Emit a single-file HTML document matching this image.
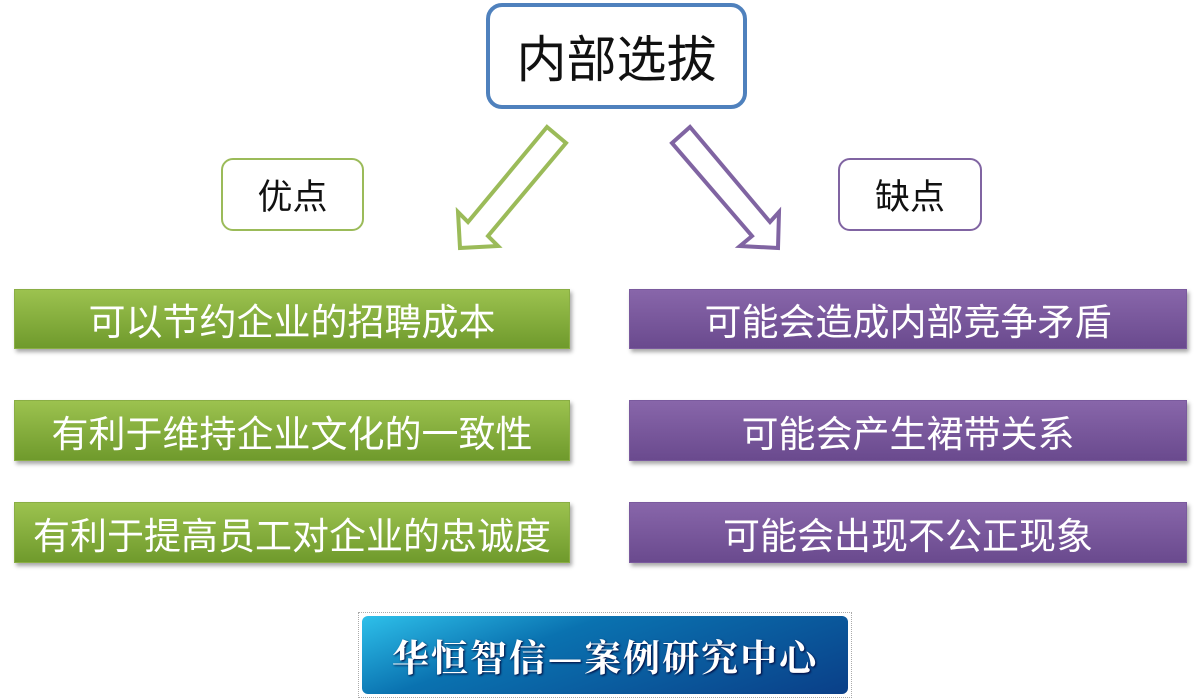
<!DOCTYPE html>
<html><head><meta charset="utf-8"><style>
body{margin:0;width:1199px;height:700px;background:#fff;position:relative;overflow:hidden;font-family:"Liberation Sans","Noto Sans CJK SC",sans-serif}
.b{position:absolute;box-sizing:border-box;display:flex;align-items:center;justify-content:center}
.g{background:linear-gradient(#9cc24f,#6f9a2c);color:#fff;font-size:37px;box-shadow:2px 3px 4px rgba(0,0,0,.35);border:1px solid #8aae45}
.p{background:linear-gradient(#8866aa,#6a4a8e);color:#fff;font-size:37px;box-shadow:2px 3px 4px rgba(0,0,0,.35);border:1px solid #7a5a9e}
</style></head><body>
<div class="b" style="left:486px;top:3px;width:261px;height:106px;border:4px solid #4f81bd;border-radius:16px;font-size:50px;color:#111">内部选拔</div>
<div class="b" style="left:221px;top:158px;width:143px;height:73px;border:2px solid #9bbb59;border-radius:12px;font-size:35px;color:#111">优点</div>
<div class="b" style="left:838px;top:158px;width:144px;height:73px;border:2px solid #8064a2;border-radius:12px;font-size:35px;color:#111">缺点</div>
<svg style="position:absolute;left:0;top:0" width="1199" height="700">
<polygon points="547,127 566,143 488,236 498,246 460,248 458,212 468,222" fill="none" stroke="#9bbb59" stroke-width="4"/>
<polygon points="690,127 672,143 752,236 740,246 778,248 779,212 770,222" fill="none" stroke="#8064a2" stroke-width="4"/>
</svg>
<div class="b g" style="left:14px;top:289px;width:556px;height:60px">可以节约企业的招聘成本</div>
<div class="b g" style="left:14px;top:400px;width:556px;height:61px">有利于维持企业文化的一致性</div>
<div class="b g" style="left:14px;top:502px;width:556px;height:61px">有利于提高员工对企业的忠诚度</div>
<div class="b p" style="left:629px;top:289px;width:558px;height:60px">可能会造成内部竞争矛盾</div>
<div class="b p" style="left:629px;top:400px;width:558px;height:61px">可能会产生裙带关系</div>
<div class="b p" style="left:629px;top:502px;width:558px;height:61px">可能会出现不公正现象</div>
<div class="b" style="left:358px;top:612px;width:494px;height:86px;border:1px dotted #aaa">
<div class="b" style="position:absolute;left:3px;top:3px;right:3px;bottom:3px;border-radius:6px;background:linear-gradient(160deg,#2ec0ea 0%,#0a72b0 35%,#0a3f88 100%);color:#fff;font-family:'Noto Serif CJK SC',serif;font-size:37px;font-weight:bold;letter-spacing:2px;text-shadow:1px 1px 2px #003">华恒智信—案例研究中心</div></div>
</body></html>
